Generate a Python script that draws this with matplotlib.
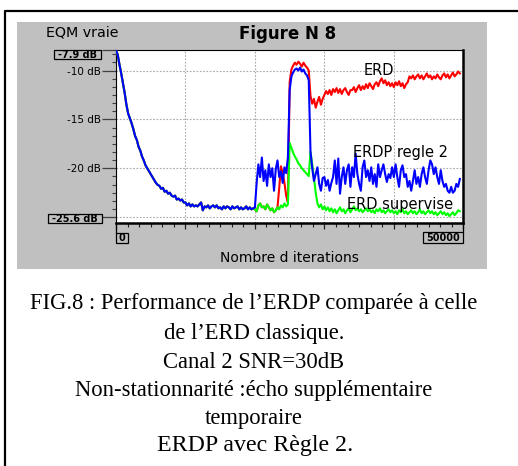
import numpy as np
import matplotlib
matplotlib.use("Agg")
import matplotlib.pyplot as plt
from matplotlib.patches import Rectangle
from matplotlib.lines import Line2D
from matplotlib.ticker import FixedLocator

W, H = 518, 466
ITER_STEP = 250

# ---- data (dB vs iterations, sampled every 250 iterations) ----
# common start of all three algorithms (0 .. 19750)
common_db = [
    -7.9, -8.4, -9.4, -10.3, -11.3, -12.3, -13.5, -14.4, -14.9, -15.4,
    -16.0, -16.7, -17.1, -17.8, -18.2, -18.8, -19.2, -19.7, -20.0, -20.3,
    -20.6, -20.9, -21.2, -21.5, -21.7, -21.8, -22.1, -22.0, -22.4, -22.3,
    -22.6, -22.5, -22.8, -22.9, -22.8, -23.2, -23.1, -23.3, -23.2, -23.5,
    -23.5, -23.8, -23.6, -23.9, -23.7, -23.9, -23.8, -23.9, -23.7, -23.5,
    -24.3, -23.9, -24.0, -23.8, -24.1, -23.9, -23.8, -24.0, -23.8, -24.1,
    -24.0, -24.2, -23.9, -24.1, -23.9, -24.0, -24.2, -23.9, -24.1, -24.0,
    -23.9, -24.2, -24.0, -24.2, -24.1, -23.9, -24.2, -24.0, -24.2, -24.1,
]
# from 20000 on
erdp_db = [
    -24.0, -21.5, -19.6, -20.9, -18.9, -21.3, -20.2, -21.8, -19.6, -20.9,
    -20.0, -22.3, -20.1, -19.2, -20.9, -20.3, -21.5, -19.9, -20.5, -18.9,
    -12.0, -10.6, -10.2, -9.9, -9.8, -10.0, -9.7, -10.1, -9.9, -10.3, -10.5, -11.0,
    -18.3,
    -20.0, -21.3, -20.6, -19.9, -21.6, -22.3, -21.0, -20.9, -21.8, -21.2,
    -22.3, -21.5, -20.9, -19.2, -21.6, -19.0, -22.6, -20.9, -19.9, -21.6,
    -20.2, -19.6, -21.9, -19.9, -20.9, -18.5, -20.6, -21.6, -22.3, -19.9,
    -19.2, -20.9, -20.2, -21.3, -19.9, -21.6, -20.6, -21.9, -19.6, -20.9,
    -20.2, -19.6, -20.6, -21.4, -20.6, -21.0, -19.9, -20.9, -19.6, -20.9,
    -21.9, -20.2, -19.7, -20.9, -20.6, -21.9, -21.3, -22.3, -21.3, -20.2,
    -21.6, -20.9, -21.9, -20.6, -19.9, -20.9, -21.6, -20.2, -19.2, -19.6,
    -20.6, -19.9, -20.9, -21.6, -20.2, -21.3, -21.9, -21.6, -22.3, -22.5,
    -21.9, -22.5, -22.3, -21.6, -21.9, -21.1,
]
erd_db = [
    -24.2, -24.4, -23.8, -23.6, -24.0, -23.9, -24.2, -23.7, -24.0, -24.3,
    -24.1, -24.5, -24.3, -24.0, -22.0, -19.8, -20.5, -21.5, -22.8, -23.5,
    -11.2, -9.9, -9.5, -9.2, -9.4, -9.1, -9.3, -9.6, -9.2, -9.5, -9.7, -10.0,
    -12.6, -13.4, -12.9, -13.8, -13.2, -12.7, -13.5, -12.9,
    -12.5, -12.1, -12.4, -12.0, -12.5, -11.9, -12.2, -11.8, -12.3, -11.9,
    -12.4, -12.0, -11.8, -12.2, -12.5, -12.0,
    -12.0, -11.7, -12.2, -11.8, -11.5, -12.0, -11.6, -11.9, -11.4, -11.8,
    -11.3, -11.6, -11.9, -11.4, -11.2, -11.6, -11.1, -10.8, -11.3, -11.0,
    -11.5, -11.2, -11.6, -11.3, -11.7, -11.2, -11.5, -11.1, -11.6, -11.3,
    -11.8, -11.4, -11.2, -10.6, -10.8, -10.5, -10.9, -10.6, -10.4, -10.8,
    -10.5, -10.9, -10.6, -10.3, -10.7, -10.5, -10.9, -10.6, -10.8, -10.4,
    -10.7, -10.9, -10.5, -10.3, -10.7, -10.4, -10.8, -10.5, -10.2, -10.6,
    -10.4, -10.1, -10.3,
]
sup_db = [
    -24.2, -24.4, -23.8, -23.6, -24.0, -23.9, -24.2, -23.7, -24.0, -24.3,
    -24.1, -24.5, -24.3, -24.0, -24.2, -23.8, -24.0, -23.6, -23.9, -23.7,
    -17.4, -17.9, -18.4, -18.8, -19.1, -19.5, -19.7, -20.0, -20.2, -20.4, -20.6, -20.8,
    -18.3, -19.6, -21.0, -22.5, -23.6,
    -24.0, -23.7, -24.2, -23.9, -24.3, -24.0, -24.4, -24.1, -24.5, -24.2,
    -24.6, -24.3, -24.0, -24.4, -24.2, -24.6, -24.3, -24.1, -24.5, -24.2,
    -23.9, -24.3, -24.1, -24.4, -24.2, -24.5, -24.3, -24.1, -24.4, -24.2,
    -24.5, -24.3, -24.6, -24.2, -24.4, -24.1, -24.5, -24.3, -24.6, -24.4,
    -24.2, -24.5, -24.3, -24.6, -24.4, -24.7, -24.3, -24.5, -24.2, -24.6,
    -24.4, -24.7, -24.5, -24.3, -24.6, -24.4, -24.7, -24.5, -24.2, -24.6,
    -24.4, -24.7, -24.5, -24.3, -24.6, -24.4, -24.7, -24.5, -24.8, -24.6,
    -24.4, -24.7, -24.5, -24.8, -24.6, -24.9, -24.7, -24.5, -24.8, -24.6,
    -24.3, -24.4,
]

series_names = ["ERD", "ERDP regle 2", "ERD supervise"]
y_major = [-7.9, -10, -15, -20, -25]
y_major_labels = ["", "-10 dB", "-15 dB", "-20 dB", ""]
x_major = [0, 10000, 20000, 30000, 40000, 50000]
x_min, x_max = 0, 50000
y_min, y_max = -25.6, -7.9
caption = [
    "FIG.8 : Performance de l\u2019ERDP compar\u00e9e \u00e0 celle",
    "de l\u2019ERD classique.",
    "Canal 2 SNR=30dB",
    "Non-stationnarit\u00e9 :\u00e9cho suppl\u00e9mentaire",
    "temporaire",
]
caption_last = "ERDP avec R\u00e8gle 2."

plt.rcParams['font.family'] = ['DejaVu Sans']

fig = plt.figure(figsize=(W / 100, H / 100), dpi=100)
fig.patch.set_facecolor('white')


def fr(x0, y0, x1, y1):
    return [x0 / W, 1 - y1 / H, (x1 - x0) / W, (y1 - y0) / H]


# grey panel and outer frame
p = fr(17, 22, 486.7, 269)
fig.add_artist(Rectangle((p[0], p[1]), p[2], p[3], transform=fig.transFigure,
                         fc='#c0c0c0', ec='none', zorder=-10))
fig.add_artist(Line2D([5 / W, 5 / W, 1.0], [0.0, 1 - 10.5 / H, 1 - 10.5 / H],
                      transform=fig.transFigure, color='black', lw=1.6, zorder=-5))

ax = fig.add_axes(fr(116, 50, 463.3, 223))
ax.set_facecolor('white')


def xs(start, n):
    return np.arange(n) * ITER_STEP + start


red_full = common_db + erd_db
green_full = common_db + sup_db
blue_full = common_db + erdp_db
ax.plot(xs(0, len(red_full)), red_full, color='#ff0000', lw=1.5, zorder=3)
ax.plot(xs(0, len(green_full)), green_full, color='#00ff00', lw=1.5, zorder=3)
ax.plot(xs(0, len(blue_full)), blue_full, color='#0000ff', lw=1.5, zorder=4)

ax.set_xlim(x_min, x_max)
ax.set_ylim(y_min, y_max)

ax.set_yticks(y_major)
ax.set_yticklabels(y_major_labels)
ax.yaxis.set_minor_locator(FixedLocator([-25 + k * 5 / 6 for k in range(21)]))
ax.set_xticks(x_major)
ax.set_xticklabels([])
ax.xaxis.set_minor_locator(FixedLocator([k * 10000 / 6 for k in range(31)]))

ax.tick_params(axis='y', which='major', length=10.2, width=0.9, color='#404040',
               pad=0.8, labelsize=7.5, direction='out')
ax.tick_params(axis='y', which='minor', length=3, width=0.8, color='#404040', direction='out')
ax.tick_params(axis='x', which='major', length=4.5, width=0.9, color='#202020', direction='out')
ax.tick_params(axis='x', which='minor', length=3, width=0.8, color='#202020', direction='out')

ax.grid(True, which='major', color='#a8a8a8', linestyle=(0, (1.5, 1.5)), lw=0.8)
ax.set_axisbelow(True)

for s in ['left', 'top']:
    ax.spines[s].set_linewidth(0.8)
    ax.spines[s].set_color('black')
for s in ['right', 'bottom']:
    ax.spines[s].set_linewidth(1.8)
    ax.spines[s].set_color('black')

# curve labels
ax.text(35600, -9.95, series_names[0], ha='left', va='center', fontsize=10.5, zorder=6)
ax.text(34150, -18.4, series_names[1], ha='left', va='center', fontsize=10.5, zorder=6)
ax.text(33290, -23.75, series_names[2], ha='left', va='center', fontsize=10.5, zorder=6)


# boxed limit labels
def box(x0, y0, x1, y1, label):
    b = fr(x0, y0, x1, y1)
    fig.add_artist(Rectangle((b[0], b[1]), b[2], b[3], transform=fig.transFigure,
                             fc='none', ec='black', lw=0.9, zorder=5))
    fig.text((x0 + x1) / 2 / W, 1 - (y0 + y1) / 2 / H, label, ha='center',
             va='center', fontsize=7, fontweight='bold')


box(54, 50, 100.7, 59.3, "%.1f dB" % y_max)
box(48.3, 214, 101.7, 223.3, "%.1f dB" % y_min)
box(116, 232.7, 128.3, 243.3, "%d" % x_min)
box(423.3, 232.3, 463.3, 243.3, "%d" % x_max)
for xx, y1 in [(116, 232.7), (463.3, 232.3)]:
    fig.add_artist(Line2D([xx / W, xx / W], [1 - 223 / H, 1 - y1 / H],
                          transform=fig.transFigure, color='black', lw=0.9))

# titles
fig.text(82.5 / W, 1 - 32 / H, "EQM vraie", ha='center', va='center', fontsize=10.3)
fig.text(288 / W, 1 - 34 / H, "Figure N 8", ha='center', va='center', fontsize=12,
         fontweight='bold')
fig.text(289 / W, 1 - 258 / H, "Nombre d iterations", ha='center', va='center', fontsize=10)

# caption
baselines = [309.2, 339.0, 367.5, 395.8, 424.2]
for txt, yb in zip(caption, baselines):
    fig.text(254 / W, 1 - yb / H, txt, ha='center', va='baseline',
             family='Liberation Serif', fontsize=16.3)
fig.text(255 / W, 1 - 451.5 / H, caption_last, ha='center', va='baseline',
         family='Liberation Serif', fontsize=17.2)

fig.savefig('out.png', dpi=100)
